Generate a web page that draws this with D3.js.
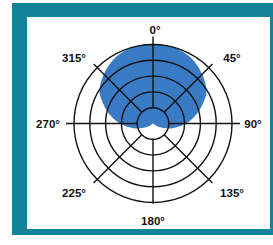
<!DOCTYPE html>
<html>
<head>
<meta charset="utf-8">
<script src="https://cdn.jsdelivr.net/npm/d3@7"></script>
<style>
  html, body { margin: 0; padding: 0; background: #fff; }
  svg { display: block; }
</style>
</head>
<body>
<div id="chart"></div>
<script>
// Pickup pattern, radius in ring units (5 = outer ring), every 15 degrees
const angles = [0, 15, 30, 45, 60, 75, 90, 105, 120, 135, 150, 165, 180,
  195, 210, 225, 240, 255, 270, 285, 300, 315, 330, 345];
const pattern = [5.0, 5.0, 4.8, 4.4, 3.9, 3.0, 2.1, 1.2, 0.45, 0, 0, 0, 0,
  0, 0, 0, 0.45, 1.2, 2.1, 3.0, 3.9, 4.4, 4.8, 5.0];
const rings = [1, 2, 3, 4, 5];
const spokeAngles = [0, 45, 90, 135, 180, 225, 270, 315];
const spokeLabels = ['0°', '45°', '90°', '135°', '180°', '225°', '270°', '315°'];

const width = 273;
const height = 245;
const cx = 153;
const cy = 123.5;

const svg = d3.select('#chart')
  .append('svg')
  .attr('width', width)
  .attr('height', height);

// Frame
svg.append('rect')
  .attr('x', 12).attr('y', 3)
  .attr('width', width - 12).attr('height', 232)
  .attr('fill', '#12849a');

svg.append('rect')
  .attr('x', 27).attr('y', 17)
  .attr('width', 243).attr('height', 212)
  .attr('fill', '#ffffff');

const r = d3.scaleLinear().domain([0, 5]).range([0, 79]);
const toRad = d => d * Math.PI / 180;

const g = svg.append('g').attr('transform', `translate(${cx},${cy})`);

// Pattern shape
const radial = d3.lineRadial()
  .angle((d, i) => toRad(angles[i]))
  .radius(d => r(d))
  .curve(d3.curveCardinalClosed.tension(0.1));

g.append('path')
  .datum(pattern)
  .attr('d', radial)
  .attr('fill', '#3a7bc5');

// Rings
g.selectAll('circle.ring')
  .data(rings)
  .join('circle')
  .attr('class', 'ring')
  .attr('r', d => r(d))
  .attr('fill', 'none')
  .attr('stroke', '#111')
  .attr('stroke-width', 1.4);

// Spokes
const spokeEnd = a => (a === 180 ? 80 : a % 90 === 0 ? 87 : 84);
g.selectAll('line.spoke')
  .data(spokeAngles)
  .join('line')
  .attr('class', 'spoke')
  .attr('x1', a => r(1) * Math.sin(toRad(a)))
  .attr('y1', a => -r(1) * Math.cos(toRad(a)))
  .attr('x2', a => spokeEnd(a) * Math.sin(toRad(a)))
  .attr('y2', a => -spokeEnd(a) * Math.cos(toRad(a)))
  .attr('stroke', '#111')
  .attr('stroke-width', 1.4);

// Angle labels
const labelPos = a => {
  if (a === 0) return [2, -90];
  if (a === 180) return [0, 101.5];
  if (a === 90) return [100, 4];
  if (a === 270) return [-105, 4];
  const sx = Math.sin(toRad(a)) > 0 ? 1 : -1;
  const sy = Math.cos(toRad(a)) > 0 ? -1 : 1;
  return [sx * 79, sy > 0 ? 73.5 : -61.5];
};

g.selectAll('text.label')
  .data(spokeAngles)
  .join('text')
  .attr('class', 'label')
  .attr('x', a => labelPos(a)[0])
  .attr('y', a => labelPos(a)[1])
  .attr('text-anchor', 'middle')
  .attr('font-family', '"Liberation Sans", Arial, sans-serif')
  .attr('font-weight', 'bold')
  .attr('font-size', 11.5)
  .attr('fill', '#111')
  .text((a, i) => spokeLabels[i]);
</script>
</body>
</html>
